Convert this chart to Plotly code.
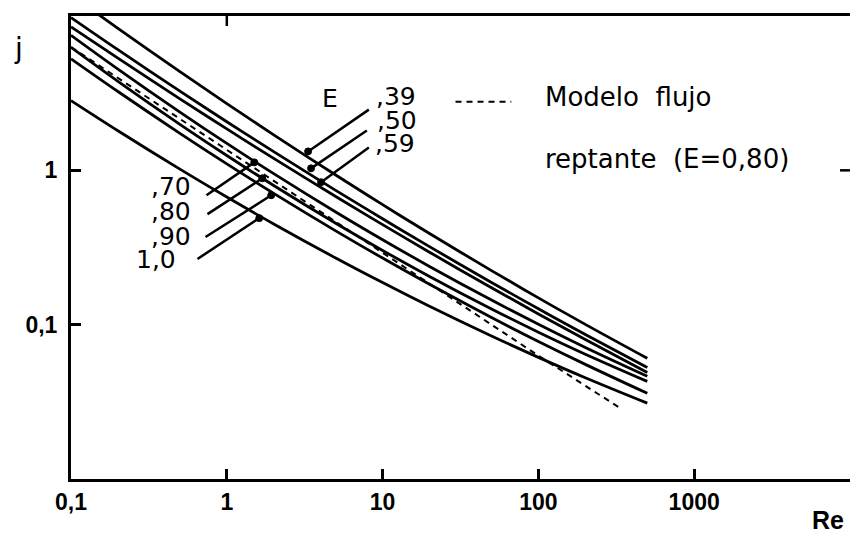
import plotly.graph_objects as go

# ---- data ----
re_pts = [0.1, 0.2, 0.5, 1, 2, 5, 10, 20, 50, 100, 200, 500]
j_039 = [13.74, 8.32, 4.36, 2.707, 1.698, 0.932, 0.5993, 0.3897, 0.2240, 0.1492, 0.1004, 0.0605]
j_050 = [9.77, 6.05, 3.262, 2.065, 1.321, 0.742, 0.4853, 0.3204, 0.1877, 0.1268, 0.0864, 0.0528]
j_059 = [8.51, 5.33, 2.905, 1.855, 1.195, 0.6767, 0.4447, 0.2949, 0.1735, 0.1174, 0.0801, 0.0490]
j_070 = [7.50, 4.53, 2.384, 1.494, 0.952, 0.5374, 0.3552, 0.2385, 0.1444, 0.1006, 0.0712, 0.0463]
j_080 = [6.27, 3.776, 1.987, 1.248, 0.798, 0.4541, 0.3027, 0.2054, 0.1264, 0.0894, 0.0644, 0.0429]
j_090 = [5.28, 3.241, 1.737, 1.102, 0.7096, 0.4055, 0.2701, 0.1826, 0.1113, 0.0778, 0.0553, 0.0359]
j_100 = [2.83, 1.805, 1.018, 0.6716, 0.4495, 0.2704, 0.1873, 0.1315, 0.0844, 0.0614, 0.0453, 0.0310]
re_creep = [0.1, 1, 10, 100, 340]
j_creep = [6.3, 1.36, 0.293, 0.063, 0.0285]

x_tickvals = [0.1, 1, 10, 100, 1000]
x_ticktext = ["0,1", "1", "10", "100", "1000"]
y_tickvals = [0.1, 1]
y_ticktext = ["0,1", "1"]

series = [(",39", j_039), (",50", j_050), (",59", j_059), (",70", j_070),
          (",80", j_080), (",90", j_090), ("1,0", j_100)]

# page body has an 8px margin, so the figure is placed at (8, 8) in the window
OFF = 8
W, H = 858 - OFF, 537 - OFF
PL, PT, PW, PH = 71, 14, 782, 465          # plot area in window pixels
ML, MT = PL - OFF, PT - OFF
MR = W - ML - PW
MB = H - MT - PH


def P(px, py):
    """window pixel -> paper coordinates"""
    return (px - PL) / PW, (PT + PH - py) / PH


fig = go.Figure()
for name, vals in series:
    fig.add_trace(go.Scatter(x=re_pts, y=vals, mode="lines", name=name,
                             line=dict(color="black", width=2.8, shape="spline", smoothing=1.0),
                             showlegend=False, hoverinfo="skip"))
fig.add_trace(go.Scatter(x=re_creep, y=j_creep, mode="lines", name="Modelo flujo reptante",
                         line=dict(color="black", width=2, dash="6px,5px"),
                         showlegend=False, hoverinfo="skip"))

shapes = []


def seg(p0, p1, width=2.5, dash=None):
    x0, y0 = P(*p0)
    x1, y1 = P(*p1)
    ln = dict(color="black", width=width)
    if dash:
        ln["dash"] = dash
    shapes.append(dict(type="line", xref="paper", yref="paper", x0=x0, y0=y0, x1=x1, y1=y1, line=ln))


def dot(px, py, r=3.5):
    x0, y0 = P(px - r, py + r)
    x1, y1 = P(px + r, py - r)
    shapes.append(dict(type="circle", xref="paper", yref="paper", x0=x0, y0=y0, x1=x1, y1=y1,
                       fillcolor="black", line=dict(color="black", width=1)))


leaders = [((370, 108), (309, 150)), ((368, 129), (312, 167)), ((370, 146), (322, 181)),
           ((207, 194), (255, 161)), ((208, 213), (263, 177)), ((206, 236), (272, 194)),
           ((198, 258), (260, 217))]
for a, b in leaders:
    seg(a, b)
    dot(*b)

# legend dash sample
seg((457, 100), (513, 100), width=2, dash="6px,5px")

# extra mirrored ticks (top at Re=1, right at j=1)
seg((PL + PW * 0.2, PT), (PL + PW * 0.2, PT + 10), width=2.5)
seg((PL + PW, PT + PH / 3), (PL + PW - 10, PT + PH / 3), width=2.5)

annots = []
TF = "DejaVu Sans"


def txt(s, px, py, size=25, xa="center", bold=False, family=TF):
    x, y = P(px, py)
    annots.append(dict(text=s, x=x, y=y, xref="paper", yref="paper", showarrow=False,
                       xanchor=xa, yanchor="middle",
                       font=dict(family=family, size=size, color="black",
                                 weight="bold" if bold else "normal")))


txt("j", 18, 47, size=28)
txt("Re", 831, 520, size=25, bold=True, family="Liberation Sans")
txt("E", 331, 97, size=25)
txt(",39", 397, 95, size=25)
txt(",50", 398, 119, size=25)
txt(",59", 396, 142, size=25)
txt("Modelo\u00a0 flujo", 545, 95, size=26, xa="left")
txt("reptante\u00a0 (E=0,80)", 545, 158, size=26, xa="left")
txt(",70", 193, 185, size=25, xa="right")
txt(",80", 193, 210, size=25, xa="right")
txt(",90", 193, 235, size=25, xa="right")
txt("1,0", 178, 259, size=25, xa="right")

axis_common = dict(type="log", showline=True, linewidth=3, linecolor="black", mirror=True,
                   showgrid=False, zeroline=False, ticks="inside", ticklen=10, tickwidth=2.5,
                   tickcolor="black",
                   tickfont=dict(family="Liberation Sans", size=23, color="black", weight="bold"))

fig.update_layout(
    width=W, height=H, margin=dict(l=ML, r=MR, t=MT, b=MB),
    paper_bgcolor="white", plot_bgcolor="white",
    xaxis=dict(range=[-1, 4], tickvals=x_tickvals, ticktext=x_ticktext, **axis_common),
    yaxis=dict(range=[-2, 1], tickvals=y_tickvals, ticktext=y_ticktext,
               ticklabelstandoff=6, **axis_common),
    shapes=shapes, annotations=annots, showlegend=False,
)

fig.write_html("out.html")
